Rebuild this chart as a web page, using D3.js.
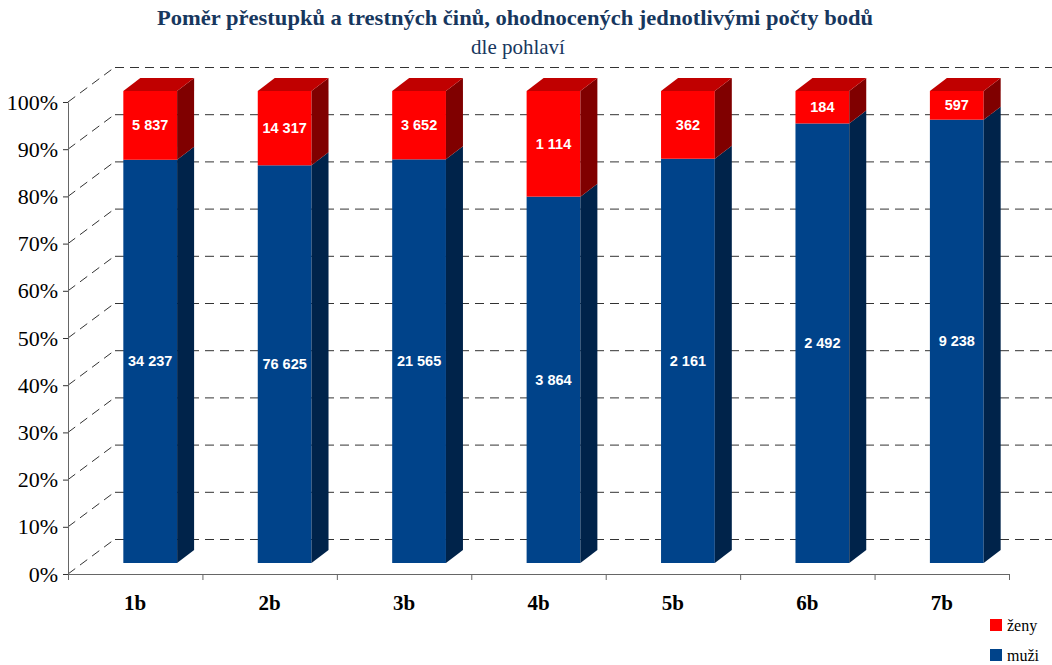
<!DOCTYPE html>
<html>
<head>
<meta charset="utf-8">
<script src="https://cdn.jsdelivr.net/npm/d3@7"></script>
<style>
  body { margin: 0; background: #fff; }
  svg { display: block; }
</style>
</head>
<body>
<svg></svg>
<script>
const categories = ['1b', '2b', '3b', '4b', '5b', '6b', '7b'];
const muzi = [34237, 76625, 21565, 3864, 2161, 2492, 9238];
const zeny = [5837, 14317, 3652, 1114, 362, 184, 597];
const yTicks = [0, 0.1, 0.2, 0.3, 0.4, 0.5, 0.6, 0.7, 0.8, 0.9, 1];
const seriesNames = ['muzi', 'zeny'];
const legendLabels = { zeny: 'ženy', muzi: 'muži' };

const WIDTH = 1052;
const HEIGHT = 665;
// depth of the 3d box (back wall offset) and of each bar
const DEPTH_X = 47;
const DEPTH_Y = 35;
const BAR_DX = 17;
const BAR_DY = 13;

const colors = {
  muzi: { front: '#00438A', side: '#00234A', top: '#003366' },
  zeny: { front: '#FF0000', side: '#800000', top: '#C00000' },
};

const fmt = d3.formatLocale({ decimal: ',', thousands: ' ', grouping: [3], currency: ['', ''] }).format(',d');

const svg = d3.select('svg')
    .attr('width', WIDTH)
    .attr('height', HEIGHT);

const x = d3.scaleBand()
    .domain(categories)
    .range([68, 1009]);

const y = d3.scaleLinear()
    .domain([0, 1])
    .range([574, 102]);

// title
svg.append('text')
    .attr('x', 515)
    .attr('y', 25)
    .attr('text-anchor', 'middle')
    .attr('textLength', 716)
    .attr('lengthAdjust', 'spacingAndGlyphs')
    .style('font', 'bold 21px "Liberation Serif"')
    .style('fill', '#17375E')
    .text('Poměr přestupků a trestných činů, ohodnocených jednotlivými počty bodů');
svg.append('text')
    .attr('x', 518)
    .attr('y', 54)
    .attr('text-anchor', 'middle')
    .style('font', '21px "Liberation Serif"')
    .style('fill', '#17375E')
    .text('dle pohlaví');

// back wall and left wall gridlines
const grid = svg.append('g')
    .attr('fill', 'none')
    .attr('stroke', '#333')
    .attr('stroke-dasharray', '9,6');
grid.selectAll('.back')
    .data(yTicks)
  .enter().append('line')
    .attr('x1', x.range()[0] + DEPTH_X)
    .attr('x2', x.range()[1] + DEPTH_X)
    .attr('y1', (d) => y(d) - DEPTH_Y + 0.5)
    .attr('y2', (d) => y(d) - DEPTH_Y + 0.5);
grid.selectAll('.side')
    .data(yTicks)
  .enter().append('line')
    .attr('x1', x.range()[0])
    .attr('x2', x.range()[0] + DEPTH_X)
    .attr('y1', (d) => y(d))
    .attr('y2', (d) => y(d) - DEPTH_Y);

// stacked data, as share of the total
const rows = categories.map((c, i) => ({ cat: c, muzi: muzi[i], zeny: zeny[i] }));
const stacked = d3.stack()
    .keys(seriesNames)
    .offset(d3.stackOffsetExpand)(rows);

const barW = x.bandwidth() * 0.4;
// bars stand in the middle of the box depth
const frontDX = (DEPTH_X - BAR_DX) / 2;
const frontDY = (DEPTH_Y - BAR_DY) / 2;
const bx = (d) => x(d.data.cat) + x.bandwidth() / 2 + frontDX - barW / 2;
const by = (v) => y(v) - frontDY;

const bars = svg.append('g');
stacked.forEach((s) => {
  const c = colors[s.key];
  const g = bars.append('g');
  g.selectAll('rect')
      .data(s)
    .enter().append('rect')
      .attr('x', bx)
      .attr('y', (d) => by(d[1]))
      .attr('width', barW)
      .attr('height', (d) => by(d[0]) - by(d[1]))
      .attr('fill', c.front);
  g.selectAll('polygon.side')
      .data(s)
    .enter().append('polygon')
      .attr('class', 'side')
      .attr('fill', c.side)
      .attr('points', (d) => {
        const x0 = bx(d) + barW;
        return [[x0, by(d[1])], [x0 + BAR_DX, by(d[1]) - BAR_DY],
          [x0 + BAR_DX, by(d[0]) - BAR_DY], [x0, by(d[0])]].join(' ');
      });
  if (s.index === stacked.length - 1) {
    g.selectAll('polygon.top')
        .data(s)
      .enter().append('polygon')
        .attr('class', 'top')
        .attr('fill', c.top)
        .attr('points', (d) => {
          const x0 = bx(d);
          const yt = by(d[1]);
          return [[x0, yt], [x0 + BAR_DX, yt - BAR_DY],
            [x0 + barW + BAR_DX, yt - BAR_DY], [x0 + barW, yt]].join(' ');
        });
  }
  g.selectAll('text')
      .data(s)
    .enter().append('text')
      .attr('x', (d) => bx(d) + barW / 2)
      .attr('y', (d) => (by(d[0]) + by(d[1])) / 2)
      .attr('dy', '0.35em')
      .attr('text-anchor', 'middle')
      .style('font', 'bold 14.5px "Liberation Sans"')
      .style('fill', '#fff')
      .text((d) => fmt(d.data[s.key]));
});

// y axis
const yAxis = svg.append('g')
    .attr('transform', `translate(${x.range()[0]},0)`)
    .call(d3.axisLeft(y)
        .tickValues(yTicks)
        .tickFormat(d3.format('.0%'))
        .tickSize(5)
        .tickSizeOuter(0)
        .tickPadding(5));
yAxis.select('.domain').attr('stroke', '#666');
yAxis.selectAll('.tick line').attr('stroke', '#333');
yAxis.selectAll('.tick text')
    .style('font', '22px "Liberation Serif"')
    .style('fill', '#000');

// x axis: line with ticks between categories
const xAxis = svg.append('g');
xAxis.append('line')
    .attr('x1', x.range()[0])
    .attr('x2', x.range()[1])
    .attr('y1', y(0) + 0.5)
    .attr('y2', y(0) + 0.5)
    .attr('stroke', '#666');
xAxis.selectAll('.xtick')
    .data(categories.map((c) => x(c)).concat([x.range()[1]]))
  .enter().append('line')
    .attr('x1', (d) => d + 0.5)
    .attr('x2', (d) => d + 0.5)
    .attr('y1', y(0))
    .attr('y2', y(0) + 6)
    .attr('stroke', '#666');
xAxis.selectAll('text')
    .data(categories)
  .enter().append('text')
    .attr('x', (d) => x(d) + x.bandwidth() / 2)
    .attr('y', 610)
    .attr('text-anchor', 'middle')
    .style('font', 'bold 21px "Liberation Serif"')
    .text((d) => d);

// legend
const legend = svg.append('g')
    .attr('transform', 'translate(990,619)');
const items = legend.selectAll('g')
    .data(['zeny', 'muzi'])
  .enter().append('g')
    .attr('transform', (d, i) => `translate(0,${i * 30})`);
items.append('rect')
    .attr('width', 12)
    .attr('height', 12)
    .attr('fill', (d) => colors[d].front);
items.append('text')
    .attr('x', 17)
    .attr('y', 12)
    .style('font', '16px "Liberation Serif"')
    .text((d) => legendLabels[d]);
</script>
</body>
</html>
